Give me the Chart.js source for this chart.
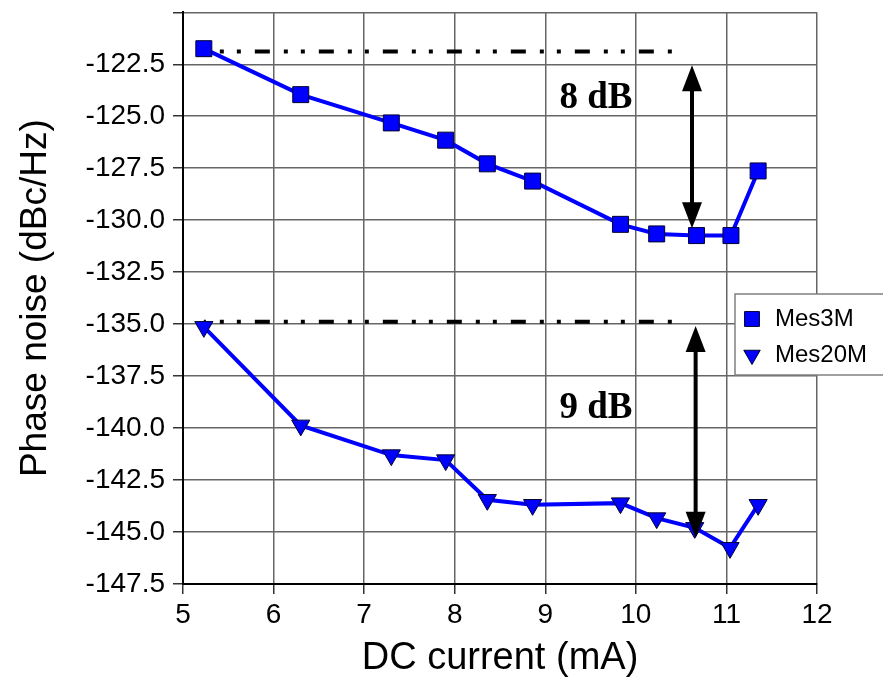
<!DOCTYPE html>
<html><head><meta charset="utf-8">
<script src="https://cdn.jsdelivr.net/npm/chart.js@4/dist/chart.umd.min.js"></script>
<style>html,body{margin:0;padding:0;background:#fff}#wrap{width:883px;height:681px;position:relative}canvas{display:block}</style>
</head><body><div id="wrap"><canvas id="c" width="883" height="681" style="width:883px;height:681px"></canvas></div>
<script>
// ---- data ----
const currentMes3M = [5.23, 6.30, 7.30, 7.90, 8.36, 8.86, 9.83, 10.23, 10.67, 11.05, 11.35];
const noiseMes3M   = [-121.75, -123.96, -125.32, -126.15, -127.29, -128.12, -130.20, -130.66, -130.74, -130.74, -127.63];
const currentMes20M = [5.23, 6.30, 7.30, 7.90, 8.36, 8.86, 9.83, 10.23, 10.65, 11.04, 11.35];
const noiseMes20M   = [-135.13, -139.87, -141.30, -141.54, -143.45, -143.69, -143.61, -144.33, -144.80, -145.76, -143.69];
const seriesNames = ['Mes3M', 'Mes20M'];
const refLevels = [-121.88, -134.88];
const refStart = [5.23, 5.23];
const refEnd = [10.40, 10.48];
const arrowX = [10.62, 10.66];
const arrowTop = [-122.55, -135.09];
const arrowBottom = [-130.39, -145.28];
const deltaLabels = ['8 dB', '9 dB'];
const deltaLabelX = [9.56, 9.56];
const deltaLabelY = [-124.05, -138.95];
const xTicks = [5, 6, 7, 8, 9, 10, 11, 12];
const yTicks = [-147.5, -145, -142.5, -140, -137.5, -135, -132.5, -130, -127.5, -125, -122.5, -120];
const yTickLabels = ['-147.5', '-145.0', '-142.5', '-140.0', '-137.5', '-135.0', '-132.5', '-130.0', '-127.5', '-125.0', '-122.5', ''];

const pts = (xs, ys) => xs.map((v, i) => ({x: v, y: ys[i]}));

const annotPlugin = {
  id: 'annot',
  afterDatasetsDraw(chart) {
    const {ctx, scales: {x, y}} = chart;
    ctx.save();
    for (let i = 0; i < arrowX.length; i++) {
      const px = x.getPixelForValue(arrowX[i]);
      const pt = y.getPixelForValue(arrowTop[i]);
      const pb = y.getPixelForValue(arrowBottom[i]);
      const hl = 26, hw = 10;
      ctx.strokeStyle = '#000'; ctx.fillStyle = '#000'; ctx.lineWidth = 4;
      ctx.beginPath(); ctx.moveTo(px, pt + hl - 2); ctx.lineTo(px, pb - hl + 2); ctx.stroke();
      ctx.beginPath(); ctx.moveTo(px, pt); ctx.lineTo(px - hw, pt + hl); ctx.lineTo(px + hw, pt + hl); ctx.closePath(); ctx.fill();
      ctx.beginPath(); ctx.moveTo(px, pb); ctx.lineTo(px - hw, pb - hl); ctx.lineTo(px + hw, pb - hl); ctx.closePath(); ctx.fill();
    }
    ctx.font = 'bold 37px "Liberation Serif"';
    ctx.textAlign = 'center'; ctx.textBaseline = 'alphabetic';
    for (let i = 0; i < deltaLabels.length; i++) {
      ctx.fillText(deltaLabels[i], x.getPixelForValue(deltaLabelX[i]), y.getPixelForValue(deltaLabelY[i]) + 12);
    }
    ctx.restore();
  },
  afterDraw(chart) {
    const {ctx, chartArea} = chart;
    ctx.save();
    const lx = chartArea.right - 82, ly = 294, lw = 160, lh = 81;
    ctx.fillStyle = '#fff'; ctx.fillRect(lx, ly, lw, lh);
    ctx.strokeStyle = '#808080'; ctx.lineWidth = 1.5; ctx.strokeRect(lx, ly, lw, lh);
    ctx.font = '24px "Liberation Sans"'; ctx.textBaseline = 'middle'; ctx.textAlign = 'left';
    for (let i = 0; i < seriesNames.length; i++) {
      const ds = chart.data.datasets[i];
      const cy = ly + 25 + i * 36;
      ctx.fillStyle = ds.pointBackgroundColor; ctx.strokeStyle = ds.pointBorderColor; ctx.lineWidth = 1;
      Chart.helpers.drawPoint(ctx, {pointStyle: ds.pointStyle, rotation: ds.pointRotation, borderWidth: 1,
        radius: ds.pointStyle === 'rect' ? 10.5 : 9.5}, lx + 17, cy);
      ctx.fillStyle = '#000';
      ctx.fillText(seriesNames[i], lx + 40, cy);
    }
    ctx.restore();
  }
};

const refDatasets = refLevels.map((lv, i) => ({
  label: 'ref' + i,
  data: [{x: refStart[i], y: lv}, {x: refEnd[i], y: lv}],
  showLine: true, pointRadius: 0, borderColor: '#000', borderWidth: 4,
  borderDash: [15, 14, 4, 13, 4, 14], borderDashOffset: 13, order: 2, borderCapStyle: 'butt'
}));

new Chart(document.getElementById('c'), {
  type: 'scatter',
  data: {
    datasets: [
      {label: seriesNames[0], data: pts(currentMes3M, noiseMes3M), showLine: true,
       borderColor: '#0000ff', borderWidth: 4, pointStyle: 'rect', pointRadius: 11.3, pointHoverRadius: 11.3,
       pointBackgroundColor: '#0000ff', pointBorderColor: '#000033', pointBorderWidth: 1, pointRotation: 0, order: 0},
      {label: seriesNames[1], data: pts(currentMes20M, noiseMes20M), showLine: true,
       borderColor: '#0000ff', borderWidth: 4, pointStyle: 'triangle', pointRadius: 10.5, pointHoverRadius: 10.5,
       pointBackgroundColor: '#0000ff', pointBorderColor: '#000033', pointBorderWidth: 1, pointRotation: 180, order: 0},
      ...refDatasets
    ]
  },
  options: {
    responsive: false, animation: false, devicePixelRatio: 1,
    layout: {padding: {left: 0, right: 66, top: 5, bottom: 0}},
    plugins: {legend: {display: false}, tooltip: {enabled: false}},
    scales: {
      x: {
        type: 'linear', min: 5, max: 12,
        afterBuildTicks: s => { s.ticks = xTicks.map(v => ({value: v})); },
        afterFit: s => { s.height = 97; s.paddingLeft = 0; s.paddingRight = 0; },
        ticks: {color: '#000', font: {family: '"Liberation Sans"', size: 28}, padding: 4, maxRotation: 0,
                callback: v => String(v)},
        grid: {color: '#666', lineWidth: 1.5, tickLength: 10, tickColor: '#333'},
        border: {color: '#000', width: 2},
        title: {display: true, text: 'DC current (mA)', color: '#000',
                font: {family: '"Liberation Sans"', size: 38}, padding: {top: 0, bottom: 0}}
      },
      y: {
        type: 'linear', min: -147.5, max: -120,
        afterBuildTicks: s => { s.ticks = yTicks.map(v => ({value: v})); },
        afterFit: s => { s.width = 183; s.paddingTop = 0; s.paddingBottom = 0; },
        ticks: {color: '#000', font: {family: '"Liberation Sans"', size: 28}, padding: 8,
                callback: (v, i) => yTickLabels[i]},
        grid: {color: '#666', lineWidth: 1.5, tickLength: 10, tickColor: '#333'},
        border: {color: '#000', width: 2},
        title: {display: true, text: 'Phase noise (dBc/Hz)', color: '#000',
                font: {family: '"Liberation Sans"', size: 37}, padding: {top: 14, bottom: 0}}
      }
    }
  },
  plugins: [annotPlugin]
});
</script>
</body></html>
